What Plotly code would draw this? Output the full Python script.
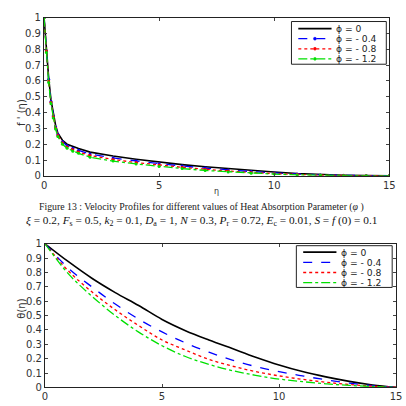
import plotly.graph_objects as go

W = H = 406

# ---------------- data ----------------
phi_labels = ["ϕ = 0", "ϕ = - 0.4", "ϕ = - 0.8", "ϕ = - 1.2"]

eta_f = [0, 0.1, 0.2, 0.3, 0.4, 0.5, 0.6, 0.8, 1.0, 1.25, 1.5, 2, 3, 4, 5, 6, 7, 8, 9, 10, 11, 12, 13, 14, 15]
fp_phi0 = [1, 0.80, 0.62, 0.48, 0.39, 0.32, 0.27, 0.225, 0.20, 0.185, 0.172, 0.150, 0.125, 0.105, 0.087, 0.071, 0.057, 0.045, 0.034, 0.024, 0.015, 0.008, 0.004, 0.0015, 0]
fp_phi04 = [1, 0.79, 0.61, 0.47, 0.38, 0.31, 0.262, 0.215, 0.19, 0.174, 0.161, 0.138, 0.113, 0.094, 0.077, 0.062, 0.049, 0.037, 0.027, 0.018, 0.011, 0.006, 0.003, 0.001, 0]
fp_phi08 = [1, 0.79, 0.60, 0.465, 0.373, 0.303, 0.255, 0.207, 0.182, 0.165, 0.151, 0.128, 0.103, 0.084, 0.068, 0.054, 0.041, 0.030, 0.021, 0.014, 0.008, 0.004, 0.002, 0.001, 0]
fp_phi12 = [1, 0.78, 0.59, 0.455, 0.365, 0.296, 0.248, 0.199, 0.174, 0.156, 0.142, 0.118, 0.093, 0.075, 0.059, 0.046, 0.034, 0.025, 0.017, 0.011, 0.006, 0.003, 0.001, 0, 0]

eta_t = [0, 1, 2, 3, 4, 5, 6, 7, 8, 9, 10, 11, 12, 13, 14, 15]
th_phi0 = [1, 0.875, 0.76, 0.66, 0.57, 0.473, 0.395, 0.33, 0.27, 0.21, 0.156, 0.11, 0.073, 0.042, 0.017, 0]
th_phi04 = [1, 0.83, 0.70, 0.58, 0.475, 0.386, 0.31, 0.245, 0.19, 0.145, 0.11, 0.08, 0.053, 0.03, 0.012, 0]
th_phi08 = [1, 0.81, 0.665, 0.54, 0.43, 0.33, 0.26, 0.195, 0.148, 0.11, 0.08, 0.056, 0.036, 0.02, 0.008, 0]
th_phi12 = [1, 0.79, 0.635, 0.50, 0.385, 0.29, 0.215, 0.16, 0.117, 0.084, 0.058, 0.04, 0.025, 0.014, 0.006, 0]

x_ticks = [0, 5, 10, 15]
y_ticks = [0, 0.1, 0.2, 0.3, 0.4, 0.5, 0.6, 0.7, 0.8, 0.9, 1]

# ---------------- styles ----------------
colors = ["#000000", "#0000ff", "#ff0000", "#00e000"]
dashes = ["solid", "dash", "dot", "dashdot"]
widths = [1.6, 1.3, 1.3, 1.3]

def px(x):
    return x / W

def py(y):
    return 1 - y / H

fig = go.Figure()

top_series = [fp_phi0, fp_phi04, fp_phi08, fp_phi12]
bot_series = [th_phi0, th_phi04, th_phi08, th_phi12]

for i, ys in enumerate(top_series):
    fig.add_trace(go.Scatter(
        x=eta_f, y=ys, name=phi_labels[i], xaxis="x", yaxis="y",
        mode="lines" if i == 0 else "lines+markers",
        line=dict(color=colors[i], dash=dashes[i], width=widths[i]),
        marker=dict(size=3, color=colors[i]),
        showlegend=False))

for i, ys in enumerate(bot_series):
    fig.add_trace(go.Scatter(
        x=eta_t, y=ys, name=phi_labels[i], xaxis="x2", yaxis="y2",
        mode="lines", line_shape="spline",
        line=dict(color=colors[i], dash=dashes[i], width=widths[i]),
        showlegend=False))

tickfont = dict(family="DejaVu Sans", size=10, color="#333333")
axis_common = dict(showgrid=False, zeroline=False, showline=True, linecolor="#222222",
                   linewidth=1.2, mirror="ticks", ticks="inside", ticklen=3,
                   tickcolor="#444444", tickfont=tickfont)

fig.update_layout(
    width=W, height=H, autosize=False,
    margin=dict(l=0, r=0, t=0, b=0),
    paper_bgcolor="white", plot_bgcolor="white",
    showlegend=False,
    xaxis=dict(domain=[px(42), px(395)], range=[0, 15], tickvals=x_ticks, anchor="y", **axis_common),
    yaxis=dict(domain=[py(175), py(12)], range=[0, 1], tickvals=y_ticks, anchor="x", **axis_common),
    xaxis2=dict(domain=[px(43), px(402)], range=[0, 15], tickvals=x_ticks, anchor="y2", **axis_common),
    yaxis2=dict(domain=[py(393), py(245)], range=[0, 1], tickvals=y_ticks, anchor="x2", **axis_common),
)

shapes = []
annotations = []

# ---- manual legends ----
def add_legend(box, sample_x0, sample_x1, text_x, rows, with_markers):
    x0, y0, x1, y1 = box
    shapes.append(dict(type="rect", xref="paper", yref="paper",
                       x0=px(x0), x1=px(x1), y0=py(y1), y1=py(y0),
                       line=dict(color="#222222", width=1), fillcolor="white", layer="above"))
    for i, ry in enumerate(rows):
        shapes.append(dict(type="line", xref="paper", yref="paper",
                           x0=px(sample_x0), x1=px(sample_x1), y0=py(ry), y1=py(ry),
                           line=dict(color=colors[i], dash=dashes[i], width=widths[i]), layer="above"))
        if with_markers and i > 0:
            cx = (sample_x0 + sample_x1) / 2
            shapes.append(dict(type="circle", xref="paper", yref="paper",
                               x0=px(cx - 1.5), x1=px(cx + 1.5), y0=py(ry + 1.5), y1=py(ry - 1.5),
                               line=dict(color=colors[i], width=0.5), fillcolor=colors[i], layer="above"))
        annotations.append(dict(xref="paper", yref="paper", x=px(text_x), y=py(ry),
                                xanchor="left", yanchor="middle", showarrow=False,
                                text=phi_labels[i],
                                font=dict(family="DejaVu Sans", size=9.2, color="#222222")))

add_legend((295, 16, 392, 60), 302, 336, 339, [23.3, 33.7, 44.1, 54.5], True)
add_legend((300, 247, 398, 290), 307, 341, 344, [253.6, 264.1, 274.6, 285.1], False)

# ---- axis titles ----
annotations.append(dict(xref="paper", yref="paper", x=px(11), y=py(94), textangle=-90,
                        showarrow=False, text="f ' (η)",
                        font=dict(family="DejaVu Sans", size=10, color="#333333")))
annotations.append(dict(xref="paper", yref="paper", x=px(11), y=py(324), textangle=-90,
                        showarrow=False, text="θ(η)",
                        font=dict(family="DejaVu Sans", size=10, color="#333333")))
annotations.append(dict(xref="paper", yref="paper", x=px(218), y=py(191),
                        showarrow=False, text="η",
                        font=dict(family="DejaVu Sans", size=8, color="#333333")))

# ---- captions ----
annotations.append(dict(xref="paper", yref="paper", x=px(203), y=py(207),
                        xanchor="center", yanchor="middle", showarrow=False,
                        text="Figure 13 : Velocity Profiles for different values of Heat Absorption Parameter (<i>φ</i> )",
                        font=dict(family="Liberation Serif", size=9.8, color="#222222")))
annotations.append(dict(xref="paper", yref="paper", x=px(203), y=py(222),
                        xanchor="center", yanchor="middle", showarrow=False,
                        text=("<i>ξ</i> = 0.2, <i>F</i><sub>s</sub> = 0.5, <i>k</i><sub>2</sub> = 0.1, "
                              "<i>D</i><sub>a</sub> = 1, <i>N</i> = 0.3, <i>P</i><sub>r</sub> = 0.72, "
                              "<i>E</i><sub>c</sub> = 0.01, <i>S</i> = <i>f</i> (0) = 0.1"),
                        font=dict(family="Liberation Serif", size=11.3, color="#111111")))

fig.update_layout(shapes=shapes, annotations=annotations)

fig.write_html("out.html")
